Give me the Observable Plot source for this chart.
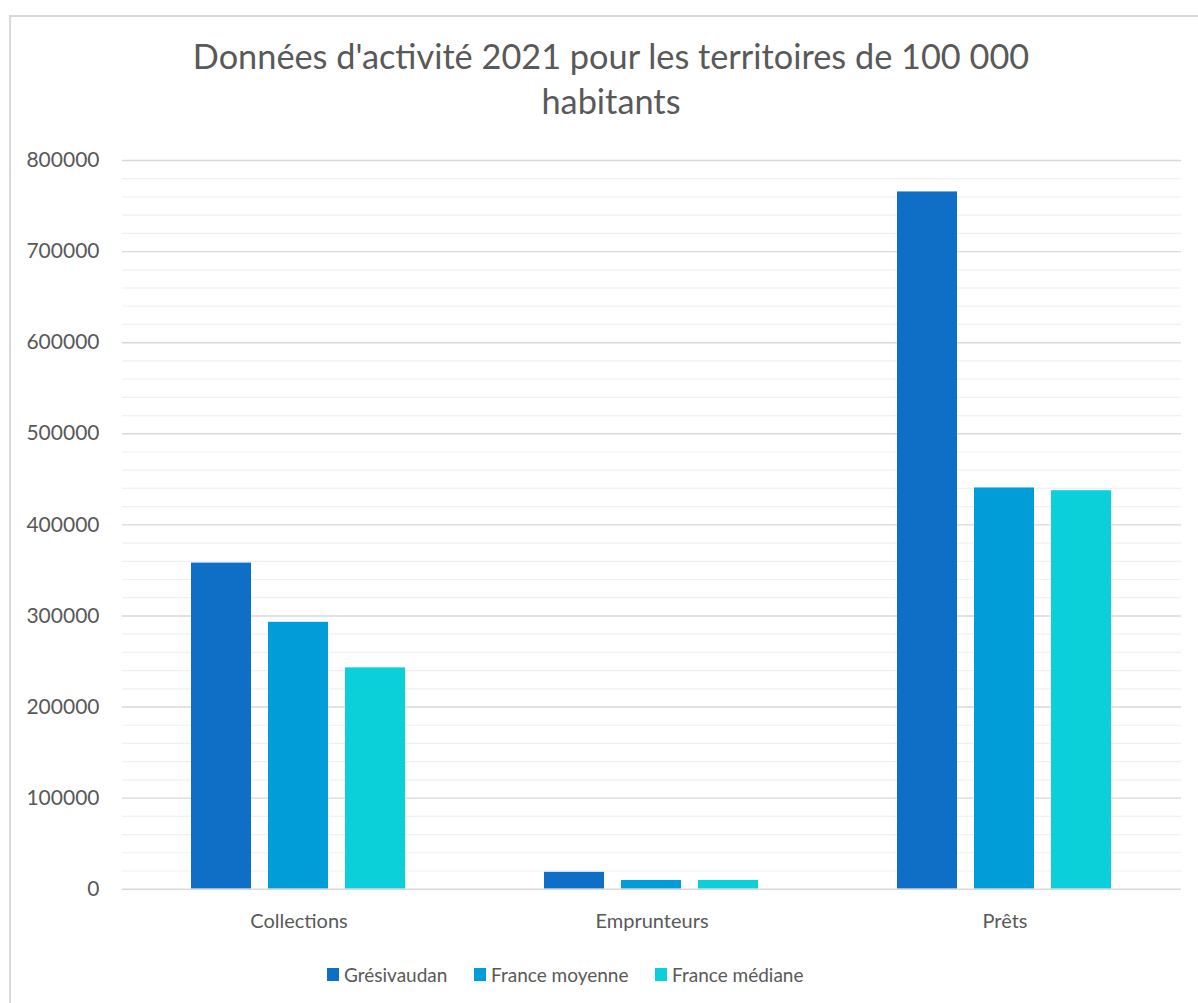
<!DOCTYPE html>
<html>
<head>
<meta charset="utf-8">
<script src="https://cdn.jsdelivr.net/npm/d3@7"></script>
<script src="https://cdn.jsdelivr.net/npm/@observablehq/plot@0.6"></script>
<style>
  html, body { margin: 0; padding: 0; background: #fff; overflow: hidden; }
  body { width: 1198px; height: 1003px; position: relative; font-family: Lato, "Open Sans", sans-serif; color: #595959; }
  #frame { position: absolute; left: 9px; top: 15px; width: 1204px; height: 1000px; border: 2px solid #d9d9d9; box-sizing: border-box; }
  #title { position: absolute; left: 9px; top: 33px; width: 1204px; text-align: center; font-size: 34.3px; line-height: 45px; color: #595959; }
  #chart { position: absolute; left: 0; top: 140px; }
  #legend { position: absolute; top: 962px; left: 0; width: 1198px; height: 24px; font-size: 19px; color: #595959; }
  .item { position: absolute; top: 0; display: flex; align-items: center; height: 24px; }
  .sw { width: 12px; height: 13px; margin-right: 5px; display: inline-block; }
</style>
</head>
<body>
<div id="frame"></div>
<div id="title">Données d'activité 2021 pour les territoires de 100 000<br>habitants</div>
<div id="chart"></div>
<div id="legend"></div>
<script>
const categories = ["Collections", "Emprunteurs", "Prêts"];
const series = ["Grésivaudan", "France moyenne", "France médiane"];
const colors = ["#0F6FC6", "#009DD9", "#0BD0D9"];
const gresivaudan = [358000, 18500, 765500];
const franceMoyenne = [293000, 9600, 440500];
const franceMediane = [243000, 9600, 437500];
const majorTicks = d3.range(0, 800001, 100000);
const minorTicks = d3.range(0, 800001, 20000).filter(v => v % 100000 !== 0);

const values = [gresivaudan, franceMoyenne, franceMediane];
const data = [];
categories.forEach((c, i) => series.forEach((s, j) => data.push({category: c, series: s, value: values[j][i]})));

const chart = Plot.plot({
  width: 1198,
  height: 800,
  marginLeft: 122,
  marginRight: 17,
  marginTop: 20,
  marginBottom: 51.3,
  style: {fontFamily: "Lato, 'Open Sans', sans-serif", color: "#595959", background: "transparent"},
  fx: {domain: categories, padding: 0, label: null},
  x: {domain: series, paddingInner: 0.218, paddingOuter: 0.872, axis: null},
  y: {domain: [0, 800000], label: null},
  color: {domain: series, range: colors},
  marks: [
    Plot.ruleY(minorTicks, {stroke: "#f0f0f0", strokeWidth: 1.2}),
    Plot.ruleY(majorTicks.slice(1), {stroke: "#d9d9d9", strokeWidth: 1.4}),
    Plot.barY(data, {fx: "category", x: "series", y: "value", fill: "series"}),
    Plot.ruleY([0], {stroke: "#d9d9d9", strokeWidth: 1.6}),
    Plot.axisY({ticks: majorTicks, tickFormat: d3.format("d"), tickSize: 0, tickPadding: 23, fontSize: 21, label: null}),
    Plot.axisFx({anchor: "bottom", tickSize: 0, tickPadding: 25, fontSize: 20, label: null})
  ]
});
document.getElementById("chart").appendChild(chart);

const legend = document.getElementById("legend");
const lefts = [327, 474, 655];
series.forEach((s, i) => {
  const it = document.createElement("div");
  it.className = "item";
  it.style.left = lefts[i] + "px";
  it.innerHTML = `<span class="sw" style="background:${colors[i]}"></span><span>${s}</span>`;
  legend.appendChild(it);
});
</script>
</body>
</html>
